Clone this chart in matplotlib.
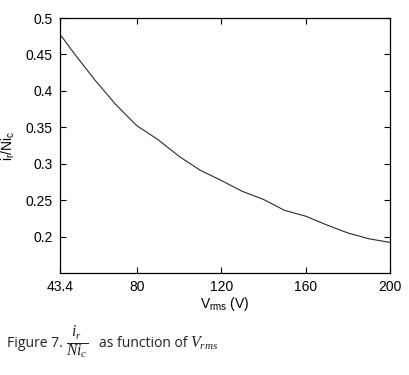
import matplotlib.pyplot as plt

# values
vrms = [43.4, 50, 60, 70, 80, 90, 100, 110, 120, 130, 140, 150, 160, 170, 180, 190, 200]
ratio = [0.478, 0.452, 0.415, 0.381, 0.352, 0.333, 0.310, 0.291, 0.277, 0.262, 0.251,
         0.236, 0.228, 0.216, 0.205, 0.197, 0.192]
xticks = [43.4, 80, 120, 160, 200]
xticklabels = ["43.4", "80", "120", "160", "200"]
yticks = [0.2, 0.25, 0.3, 0.35, 0.4, 0.45, 0.5]
yticklabels = ["0.2", "0.25", "0.3", "0.35", "0.4", "0.45", "0.5"]

plt.rcParams['font.family'] = 'Liberation Sans'
plt.rcParams['mathtext.fontset'] = 'custom'
plt.rcParams['mathtext.rm'] = 'Liberation Sans'
plt.rcParams['mathtext.it'] = 'Liberation Serif:italic'

fig = plt.figure(figsize=(4.1, 3.75), dpi=100)
ax = fig.add_axes([0.146, 0.272, 0.805, 0.68])

ax.plot(vrms, ratio, color='#2a2a2a', lw=0.8)

ax.set_xlim(43.4, 200)
ax.set_ylim(0.15, 0.5)
ax.set_xticks(xticks)
ax.set_xticklabels(xticklabels)
ax.set_yticks(yticks)
ax.set_yticklabels(yticklabels)
ax.tick_params(direction='in', top=True, right=True, length=4, width=0.8, labelsize=10, pad=5)
for s in ax.spines.values():
    s.set_linewidth(0.9)

ax.set_xlabel(r'V$_\mathregular{rms}$ (V)', fontsize=10, labelpad=1)
ax.set_ylabel(r'i$_\mathregular{r}$/Ni$_\mathregular{c}$', fontsize=10, labelpad=6)

# caption
fig.text(0.017, 0.085, 'Figure 7.', fontsize=10, family='Open Sans', color='#222222', va='center')
fig.text(0.161, 0.085, r'$\frac{i_r}{Ni_c}$', fontsize=16, color='#222222', va='center')
fig.text(0.242, 0.085, 'as function of', fontsize=10, family='Open Sans', color='#222222', va='center')
fig.text(0.464, 0.085, r'$V_{rms}$', fontsize=11.5, color='#222222', va='center')

fig.savefig('out.png', dpi=100)
